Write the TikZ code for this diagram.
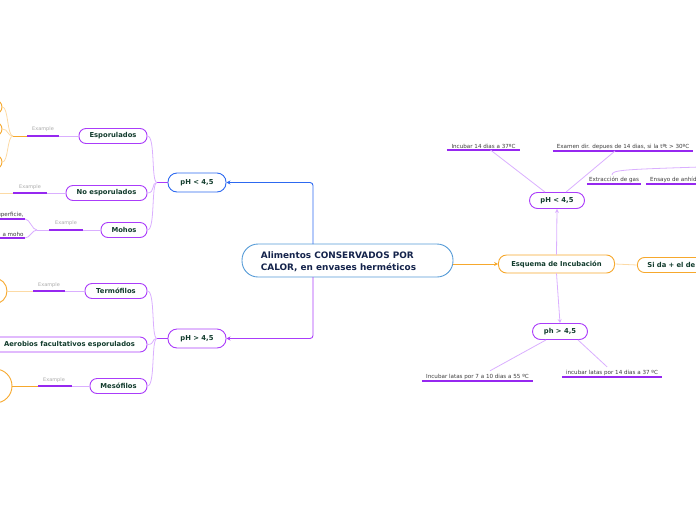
\documentclass[tikz,border=0pt]{standalone}
\usepackage{fontspec}
\setmainfont{DejaVu Sans}
\usetikzlibrary{arrows.meta,calc}
\definecolor{cpurple}{RGB}{170,60,250}
\definecolor{cdpurple}{RGB}{150,40,240}
\definecolor{clpurple}{RGB}{218,175,255}
\definecolor{cblue}{RGB}{45,105,240}
\definecolor{cnavy}{RGB}{20,35,75}
\definecolor{crootb}{RGB}{85,155,215}
\definecolor{corange}{RGB}{246,168,45}
\definecolor{clorange}{RGB}{252,218,165}
\definecolor{ctext}{RGB}{18,60,45}
\definecolor{cgrey}{RGB}{170,170,170}
\definecolor{cleaf}{RGB}{60,60,60}
\tikzset{
  box/.style={draw=cpurple, line width=0.9pt, rounded corners=7pt, fill=white, text=ctext,
    font=\fontsize{6.8}{7}\selectfont\bfseries, inner sep=0pt, minimum height=15pt},
  bigbox/.style={box, rounded corners=9pt, minimum height=19pt},
  midbox/.style={box, rounded corners=8pt, minimum height=16pt},
  leaf/.style={font=\fontsize{5.6}{6}\selectfont, text=cleaf, inner sep=1.2pt, anchor=south},
  uline/.style={draw=cdpurple, line width=1.7pt},
  exlabel/.style={font=\fontsize{5}{6}\selectfont, text=cgrey, inner sep=0pt},
  conn/.style={draw=clpurple, line width=0.8pt},
  oconn/.style={draw=clorange, line width=0.8pt},
  arr/.style={-{Stealth[length=4pt,width=4pt]}},
  ocirc/.style={draw=corange, line width=0.9pt}
}
\begin{document}
\begin{tikzpicture}[x=1pt,y=-1pt]
\useasboundingbox (0,0) rectangle (696,520);
\clip (0,0) rectangle (696,520);

% ---------- root ----------
\node[draw=crootb, line width=0.9pt, rounded corners=16pt, fill=white, minimum width=211pt, minimum height=33pt, inner sep=0pt] (root) at (347.5,260.5) {};
\node[font=\fontsize{8.9}{12}\selectfont\bfseries, text=cnavy, align=left, inner sep=0pt] (roottext) at (338.5,261.5) {Alimentos CONSERVADOS POR\\CALOR, en envases herméticos};
\coordinate (rtop) at (313,244);
\coordinate (rbot) at (313,277);
\coordinate (rright) at (452.5,264);

% ---------- left level 1 ----------
\node[bigbox, draw=cblue, minimum width=58pt] (pl1) at (197,182.5) {pH < 4,5};
\node[bigbox, minimum width=58pt] (pl2) at (197,338.5) {pH > 4,5};
\draw[cblue, line width=0.9pt, rounded corners=3pt, arr] (rtop) |- (pl1.east);
\draw[cpurple, line width=0.9pt, rounded corners=3pt, arr] (rbot) |- (pl2.east);

% ---------- children of pH < 4,5 ----------
\node[box, minimum width=68pt] (espo) at (113,136) {Esporulados};
\node[box, minimum width=81pt] (noesp) at (106.5,193) {No esporulados};
\node[box, minimum width=46pt] (mohos) at (124,230) {Mohos};
\coordinate (j1) at (157,182.5);
\draw[cpurple, line width=0.9pt] (pl1.west) -- (j1);
\foreach \cc in {espo,noesp,mohos}{
  \draw[conn] (j1) .. controls ($(j1)+(-6,0)$) and ($(\cc.east)+(8,0)$) .. (\cc.east);
}

% ---------- children of pH > 4,5 ----------
\node[box, minimum width=62pt] (termo) at (116,291) {Termófilos};
\node[box, minimum width=155pt] (aero) at (69.5,344.5) {Aerobios facultativos esporulados};
\node[box, minimum width=57pt] (meso) at (118.5,386) {Mesófilos};
\coordinate (j2) at (157,338.5);
\draw[cpurple, line width=0.9pt] (pl2.west) -- (j2);
\foreach \cc in {termo,aero,meso}{
  \draw[conn] (j2) .. controls ($(j2)+(-6,0)$) and ($(\cc.east)+(8,0)$) .. (\cc.east);
}

% ---------- Example links ----------
\coordinate (ea1) at (59,136); \coordinate (eb1) at (27,136); \coordinate (ec1) at (13,136);
\coordinate (ea2) at (47,193); \coordinate (eb2) at (13,193); \coordinate (ec2) at (-2,193);
\coordinate (ea3) at (83,230); \coordinate (eb3) at (49,230); \coordinate (ec3) at (37,230);
\coordinate (ea4) at (65,291); \coordinate (eb4) at (33,291);
\coordinate (ea5) at (72,386); \coordinate (eb5) at (38,386);

% Esporulados
\draw[conn] (espo.west) -- (ea1);
\draw[draw=corange, line width=0.9pt] (eb1) -- (ec1);
\node[exlabel] (ex1) at (43,129.5) {Example};
\node[ocirc, circle, minimum size=14pt, inner sep=0pt] (o1) at (-5,107) {};
\node[ocirc, circle, minimum size=14pt, inner sep=0pt] (o2) at (-5,129) {};
\node[ocirc, circle, minimum size=14pt, inner sep=0pt] (o3) at (-5,162) {};
\foreach \oo in {o1,o2,o3}{
  \draw[oconn] (ec1) .. controls ($(ec1)+(-6,0)$) and ($(\oo.east)+(6,0)$) .. (\oo.east);
}
% No esporulados
\draw[conn] (noesp.west) -- (ea2);
\draw[oconn] (eb2) -- (ec2);
\node[exlabel] (ex2) at (30,187.5) {Example};
% Mohos
\draw[conn] (mohos.west) -- (ea3);
\draw[conn] (eb3) -- (ec3);
\node[exlabel] (ex3) at (66,223.5) {Example};
\node[leaf, anchor=south east] (perf) at (25,219) {superficie,};
\node[leaf, anchor=south east] (amoho) at (25,238) {a moho};
\draw[uline] ($(perf.south west)+(-10,0)$) -- (perf.south east);
\draw[uline] ($(amoho.south west)+(-10,0)$) -- (amoho.south east);
\draw[conn] (ec3) .. controls ($(ec3)+(-5,0)$) and ($(perf.south east)+(5,0)$) .. (perf.south east);
\draw[conn] (ec3) .. controls ($(ec3)+(-5,0)$) and ($(amoho.south east)+(5,0)$) .. (amoho.south east);
% Termofilos
\node[ocirc, circle, minimum size=26pt, inner sep=0pt] (o4) at (-6,291) {};
\draw[conn] (termo.west) -- (ea4);
\draw[oconn] (eb4) -- (o4.east);
\node[exlabel] (ex4) at (49,285.5) {Example};
% Mesofilos
\node[ocirc, circle, minimum size=34pt, inner sep=0pt] (o5) at (-5,386) {};
\draw[conn] (meso.west) -- (ea5);
\draw[draw=corange, line width=0.8pt] (eb5) -- (o5.east);
\node[exlabel] (ex5) at (54,380.5) {Example};

% ---------- right side ----------
\node[box, draw=corange, rounded corners=8pt, minimum height=18pt, minimum width=116pt] (esq) at (556.5,264) {Esquema de Incubación};
\draw[corange, line width=0.9pt, arr] (rright) -- (esq.west);
\node[box, draw=corange, text width=62pt, inner xsep=10pt, align=left, anchor=west] (sida) at (637,265) {Si da + el de};
\draw[oconn] (esq.east) -- (sida.west);

\node[midbox, minimum width=55pt] (pr1) at (557,200.5) {pH < 4,5};
\node[midbox, minimum width=55pt] (pr2) at (560,331.5) {ph > 4,5};
\draw[conn, arr] (esq.north) -- (pr1.south);
\draw[conn, arr] (esq.south) -- (pr2.north);

% leaves of pH < 4,5
\node[leaf, minimum width=73pt] (inc14) at (483.5,150) {Incubar 14 dias a 37ºC};
\draw[uline] (inc14.south west) -- (inc14.south east);
\node[leaf, minimum width=140pt] (exam) at (623,151) {Examen dir. depues de 14 dias, si la tºt > 30ºC};
\draw[uline] (exam.south west) -- (exam.south east);
\draw[conn] ($(pr1.north)+(-12,0)$) -- ($(inc14.south)+(7,0)$);
\draw[conn] ($(pr1.north)+(9,0)$) -- ($(exam.south)+(-8,0)$);

\node[leaf, minimum width=54pt] (extr) at (614,184) {Extracción de gas};
\draw[uline] (extr.south west) -- (extr.south east);
\node[leaf, anchor=south west, inner xsep=4pt] (ensa) at (646,184) {Ensayo de anhídrido};
\draw[uline] (ensa.south west) -- (ensa.south east);
\coordinate (k1) at (612,175);
\coordinate (k2) at (700,167);
\draw[conn] (k1) .. controls (612,170) and (622,169.5) .. (k2);

% leaves of ph > 4,5
\node[leaf, minimum width=111pt] (lat55) at (477.5,381) {Incubar latas por 7 a 10 dias a 55 ºC};
\draw[uline] (lat55.south west) -- (lat55.south east);
\node[leaf, minimum width=100pt] (lat37) at (612,377) {incubar latas por 14 dias a 37 ºC};
\draw[uline] (lat37.south west) -- (lat37.south east);
\draw[conn] ($(pr2.south)+(-14,0)$) -- ($(lat55.north)+(12.5,-2)$);
\draw[conn] ($(pr2.south)+(18,0)$) -- ($(lat37.north)+(-5,-2)$);

% ---------- Example segments (dark purple) ----------
\foreach \i in {1,...,5}{
  \fill[cdpurple] ($(eb\i)+(0,-1)$) rectangle ($(ea\i)+(0,1)$);
}
\end{tikzpicture}
\end{document}
